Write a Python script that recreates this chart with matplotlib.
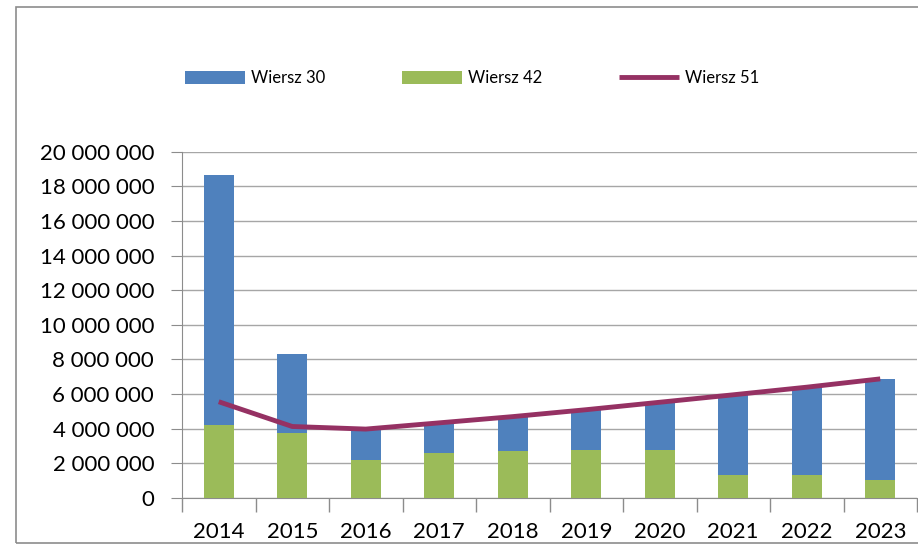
import numpy as np
import matplotlib
matplotlib.use("Agg")
import matplotlib.pyplot as plt
from matplotlib.patches import Rectangle
from matplotlib.ticker import FuncFormatter

years = ["2014", "2015", "2016", "2017", "2018", "2019", "2020", "2021", "2022", "2023"]
wiersz30 = [18.66e6, 8.33e6, 3.98e6, 4.34e6, 4.70e6, 5.10e6, 5.53e6, 5.96e6, 6.40e6, 6.88e6]
wiersz42 = [4.23e6, 3.77e6, 2.21e6, 2.61e6, 2.73e6, 2.80e6, 2.80e6, 1.31e6, 1.31e6, 1.02e6]
wiersz51 = [5.56e6, 4.13e6, 3.98e6, 4.34e6, 4.70e6, 5.10e6, 5.53e6, 5.96e6, 6.40e6, 6.88e6]

plt.rcParams['font.family'] = ['Lato', 'DejaVu Sans']

fig = plt.figure(figsize=(9.18, 5.45), dpi=100)
# outer chart frame
fig.patches.append(Rectangle((16/918, 2/545), 1.2, 536/545, transform=fig.transFigure,
                             fill=False, edgecolor='#8c8c8c', linewidth=1.2))

ax = fig.add_axes([182/918, 1-498/545, 735/918, (498-151.7)/545])
x = np.arange(len(years))
b30 = ax.bar(x, wiersz30, width=0.41, color='#4f81bd', label='Wiersz 30', zorder=2)
b42 = ax.bar(x, wiersz42, width=0.41, color='#9bbb59', label='Wiersz 42', zorder=3)
l51, = ax.plot(x, wiersz51, color='#953163', linewidth=3.5, label='Wiersz 51', zorder=4,
               solid_capstyle='butt')

ax.set_xlim(-0.5, len(years) - 0.5)
ax.set_ylim(0, 20e6)
ax.set_yticks(np.arange(0, 20e6 + 1, 2e6))
ax.yaxis.set_major_formatter(FuncFormatter(lambda v, p: f"{int(v):,}".replace(",", " ")))
ax.grid(axis='y', color='#a6a6a6', linewidth=1, zorder=0)
ax.set_axisbelow(True)

ax.set_xticks(x)
ax.set_xticklabels(years)
ax.set_xticks(np.arange(-0.5, len(years)), minor=True)
ax.tick_params(axis='x', which='major', length=0, pad=17, labelsize=16)
ax.tick_params(axis='x', which='minor', length=10, color='#8c8c8c', width=1)
ax.tick_params(axis='y', length=8, color='#8c8c8c', pad=12, labelsize=16)

for s in ['top', 'right']:
    ax.spines[s].set_visible(False)
for s in ['left', 'bottom']:
    ax.spines[s].set_color('#8c8c8c')

fig.legend([b30, b42, l51], ['Wiersz 30', 'Wiersz 42', 'Wiersz 51'],
           loc='center', bbox_to_anchor=(472/918, 1-78/545), ncol=3, frameon=False,
           fontsize=12, handlelength=3.6, handleheight=0.8, columnspacing=4.6,
           handletextpad=0.35)

fig.savefig("out.png", dpi=100)
